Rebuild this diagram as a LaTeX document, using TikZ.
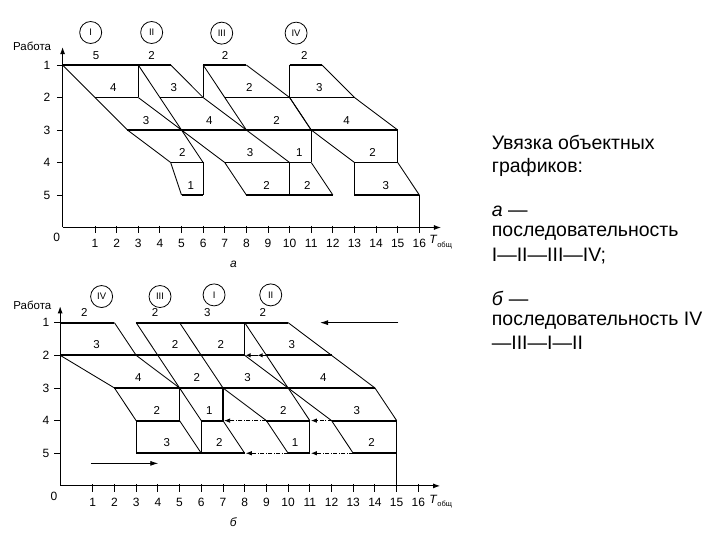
\documentclass[tikz,border=0pt]{standalone}
\usepackage{fontspec}
\setmainfont{Liberation Sans}
\usetikzlibrary{arrows.meta}
\begin{document}
\begin{tikzpicture}[x=1pt,y=-1pt,
  bar/.style={line width=1.9pt},
  sl/.style={line width=0.85pt},
  vl/.style={line width=1.2pt},
  ax/.style={line width=0.9pt},
  axarrow/.style={ax, -{Latex[length=7pt,width=5pt]}},
  num/.style={font=\fontsize{11.5}{13}\selectfont, inner sep=0pt},
  tk/.style={font=\fontsize{12}{13}\selectfont, inner sep=0pt},
  obj/.style={draw, circle, minimum size=22pt, inner sep=0pt, line width=0.8pt, font=\fontsize{9.5}{10}\selectfont},
  shiftarrow/.style={line width=0.8pt, dash pattern=on 4pt off 1.5pt on 1pt off 1.5pt, -{Latex[length=6pt,width=4.5pt]}},
  headarrow/.style={line width=1pt, -{Latex[length=5pt,width=4.5pt]}},
  plainarrow/.style={line width=0.9pt, -{Latex[length=8pt,width=5pt]}},
  txt/.style={font=\fontsize{19.5}{22}\selectfont, inner sep=0pt, anchor=base west},
]
\useasboundingbox (0,0) rectangle (720,540);

% ================= chart a =================
\begin{scope}[shift={(73.4,32.5)}, x=21.62pt, y=-32.5pt]
  \draw[axarrow] (-0.5,6) -- (-0.5,0.45);
  \draw[axarrow] (-0.5,6) -- (17,6);
  \foreach \k in {1,...,5} {
    \draw[ax] (-0.77,\k) -- (-0.5,\k);
    \node[tk] (ar\k) at (-1.22,\k) {\k};
  }
  \foreach \k in {1,...,16} {
    \draw[ax] (\k,5.95) -- (\k,6.18);
    \node[tk] (at\k) at (\k,6.5) {\k};
  }
  \node[tk] (a0) at (-0.77,6.3) {0};
  \node[num] (arab) at (-1.91,0.44) {Работа};
  \node[tk, anchor=west] (aT) at (16.45,6.45) {\textit{T}\raisebox{-0.5ex}{\fontsize{7.5}{8}\selectfont общ}};
  \node[tk] (aname) at (7.4,7.12) {\textit{а}};
  % objects
  \node[obj] (aI) at (0.8,0) {I};
  \node[obj] (aII) at (3.62,0) {II};
  \node[obj] (aIII) at (6.86,0.02) {III};
  \node[obj] (aIV) at (10.3,0.02) {IV};
  % bars
  \draw[bar] (-0.5,1) -- (4.5,1);
  \draw[bar] (6,1) -- (8,1);
  \draw[bar] (10,1) -- (11.5,1);
  \draw[bar] (1,2) -- (3,2);
  \draw[bar] (4,2) -- (6,2);
  \draw[bar] (7,2) -- (13,2);
  \draw[bar] (2.5,3) -- (15,3);
  \draw[bar] (4.5,4) -- (6,4);
  \draw[bar] (7,4) -- (11,4);
  \draw[bar] (13,4) -- (15,4);
  \draw[bar] (5,5) -- (6,5);
  \draw[bar] (8,5) -- (12,5);
  \draw[bar] (13,5) -- (16,5);
  % verticals
  \draw[vl] (3,1) -- (3,2);
  \draw[vl] (6,1) -- (6,2);
  \draw[vl] (10,1) -- (10,2);
  \draw[vl] (11,3) -- (11,4);
  \draw[vl] (15,3) -- (15,4);
  \draw[vl] (6,4) -- (6,5);
  \draw[vl] (10,4) -- (10,5);
  \draw[vl] (13,4) -- (13,5);
  \draw[vl] (16,5) -- (16,6);
  % slanted sides
  \draw[sl] (-0.5,1) -- (1,2) -- (2.5,3) -- (4.5,4) -- (5,5);
  \draw[sl] (3,2) -- (5,3) -- (6,4);
  \draw[sl] (3,1) -- (4,2) -- (5,3) -- (7,4) -- (8,5);
  \draw[sl] (4.5,1) -- (6,2) -- (8,3) -- (10,4);
  \draw[sl] (6,1) -- (7,2) -- (8,3);
  \draw[sl] (8,1) -- (10,2) -- (11,3);
  \draw[sl] (11,4) -- (12,5);
  \draw[sl] (10,2) -- (11,3) -- (13,4);
  \draw[sl] (11.5,1) -- (13,2) -- (15,3);
  \draw[sl] (15,4) -- (16,5);
  % durations
  \foreach \t/\k/\s [count=\i] in {1.05/1/5, 1.85/2/4, 3.36/3/3, 5.04/4/2, 5.43/5/1,
      3.62/1/2, 4.65/2/3, 6.29/3/4, 8.17/4/3, 8.94/5/2,
      7.01/1/2, 8.14/2/2, 9.4/3/2, 10.45/4/1, 10.82/5/2,
      10.68/1/2, 11.37/2/3, 12.64/3/4, 13.84/4/2, 14.45/5/3}
    \node[num] (ad\i) at (\t,\k-0.3) {\s};
\end{scope}

% ================= chart b =================
\begin{scope}[shift={(71.0,290)}, x=21.71pt, y=-32.65pt]
  \draw[axarrow] (-0.5,6) -- (-0.5,0.5);
  \draw[axarrow] (-0.5,6) -- (17,6);
  \foreach \k in {1,...,5} {
    \draw[ax] (-0.77,\k) -- (-0.5,\k);
    \node[tk] (br\k) at (-1.15,\k) {\k};
  }
  \foreach \k in {1,...,16} {
    \draw[ax] (\k,5.95) -- (\k,6.18);
    \node[tk] (bt\k) at (\k,6.5) {\k};
  }
  \node[tk] (b0) at (-0.78,6.33) {0};
  \node[num] (brab) at (-1.78,0.46) {Работа};
  \node[tk, anchor=west] (bT) at (16.5,6.47) {\textit{T}\raisebox{-0.5ex}{\fontsize{7.5}{8}\selectfont общ}};
  \node[tk] (bname) at (7.48,7.1) {\textit{б}};
  % objects
  \node[obj] (bIV) at (1.41,0.2) {IV};
  \node[obj] (bIII) at (4.1,0.2) {III};
  \node[obj] (bI) at (6.59,0.15) {I};
  \node[obj] (bII) at (9.2,0.15) {II};
  % bars
  \draw[bar] (-0.5,1) -- (2,1);
  \draw[bar] (3,1) -- (10,1);
  \draw[bar] (-0.5,2) -- (8,2);
  \draw[bar] (9,2) -- (12,2);
  \draw[bar] (2,3) -- (14,3);
  \draw[bar] (3,4) -- (5,4);
  \draw[bar] (6,4) -- (7,4);
  \draw[bar] (9,4) -- (11,4);
  \draw[bar] (12,4) -- (15,4);
  \draw[bar] (3,5) -- (8,5);
  \draw[bar] (10,5) -- (11,5);
  \draw[bar] (13,5) -- (15,5);
  % verticals
  \draw[vl] (8,1) -- (8,2);
  \draw[vl] (5,3) -- (5,4);
  \draw[vl] (7,3) -- (7,4);
  \draw[vl] (3,4) -- (3,5);
  \draw[vl] (6,4) -- (6,5);
  \draw[vl] (11,4) -- (11,5);
  \draw[vl] (15,4) -- (15,6);
  % slanted sides
  \draw[sl] (-0.5,2) -- (2,3) -- (3,4);
  \draw[sl] (2,1) -- (3,2) -- (5,3);
  \draw[sl] (5,4) -- (6,5);
  \draw[sl] (3,1) -- (4,2) -- (5,3) -- (6,4);
  \draw[sl] (5,1) -- (6,2) -- (7,3) -- (9,4) -- (10,5);
  \draw[sl] (7,4) -- (8,5);
  \draw[sl] (8,2) -- (10,3) -- (11,4);
  \draw[sl] (8,1) -- (9,2) -- (10,3) -- (12,4) -- (13,5);
  \draw[sl] (10,1) -- (12,2) -- (14,3) -- (15,4);
  % shift arrows
  \draw[headarrow] (8.62,2) -- (8.04,2);
  \draw[headarrow] (9,2) -- (8.6,2);
  \draw[shiftarrow] (9,4) -- (7.05,4);
  \draw[shiftarrow] (12,4) -- (11.05,4);
  \draw[shiftarrow] (10,5) -- (8.05,5);
  \draw[shiftarrow] (13,5) -- (11.05,5);
  \draw[plainarrow] (15.08,1) -- (11.47,1);
  \draw[plainarrow] (0.91,5.31) -- (4.02,5.31);
  % durations
  \foreach \t/\k/\s [count=\i] in {0.61/1/2, 1.18/2/3, 3.1/3/4, 3.95/4/2, 4.41/5/3,
      3.87/1/2, 4.79/2/2, 5.79/3/2, 6.37/4/1, 6.83/5/2,
      6.28/1/3, 6.9/2/2, 8.13/3/3, 9.78/4/2, 10.32/5/1,
      8.83/1/2, 10.17/2/3, 11.62/3/4, 13.16/4/3, 13.85/5/2}
    \node[num] (bd\i) at (\t,\k-0.32) {\s};
\end{scope}

% ================= caption =================
\node[txt] (t1) at (491.7,150) {Увязка объектных};
\node[txt] (t2) at (491.7,172.3) {графиков:};
\node[txt] (t3) at (491.7,216) {\textit{а} —};
\node[txt] (t4) at (491.7,236.7) {последовательность};
\node[txt] (t5) at (491.7,261) {I—II—III—IV;};
\node[txt] (t6) at (491.7,305) {\textit{б} —};
\node[txt] (t7) at (491.7,325.7) {последовательность IV};
\node[txt] (t8) at (491.7,349.3) {—III—I—II};
\end{tikzpicture}
\end{document}
